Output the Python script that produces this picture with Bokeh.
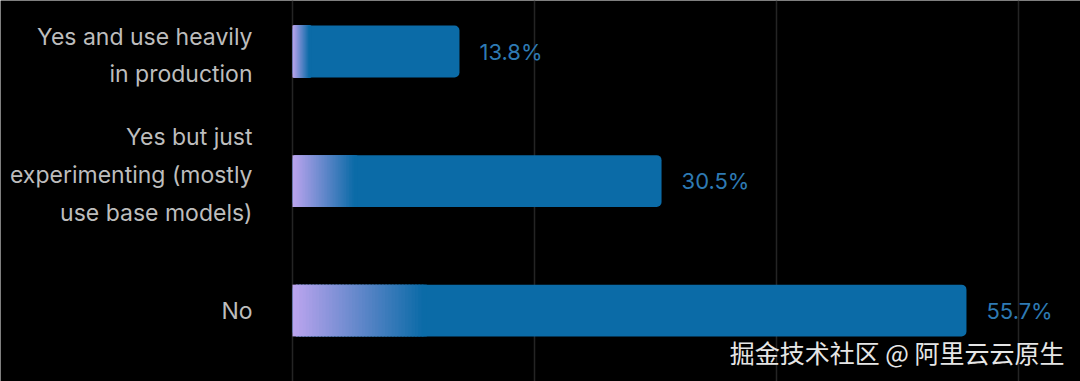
from bokeh.plotting import figure
from bokeh.models import Range1d, FixedTicker, ColumnDataSource, Label
from bokeh.core.properties import value
from bokeh.embed import file_html
from bokeh.resources import INLINE

categories = ["Yes and use heavily\nin production",
              "Yes but just\nexperimenting (mostly\nuse base models)",
              "No"]
values = [13.8, 30.5, 55.7]
value_labels = ["13.8%", "30.5%", "55.7%"]
grid_ticks = [0, 20, 40, 60]

PX_PER_UNIT = 12.1
W, H = 1080, 381
LEFT = 292
x_start = -LEFT / PX_PER_UNIT
x_end = (W - LEFT) / PX_PER_UNIT

ys = list(range(len(categories)))
label_nudge = [4, -6, 0]

p = figure(width=W, height=H, output_backend="svg", toolbar_location=None,
           x_range=Range1d(x_start, x_end), y_range=Range1d(2.548, -0.394),
           min_border=0, background_fill_color="#000000", border_fill_color="#000000",
           outline_line_color=None)
p.xaxis.visible = False
p.yaxis.visible = False
p.ygrid.visible = False
p.xgrid.ticker = FixedTicker(ticks=grid_ticks)
p.xgrid.grid_line_color = "#242424"
p.xgrid.grid_line_width = 1.5

# main bars
src = ColumnDataSource(dict(y=ys, right=values, lab=value_labels, cat=categories,
                            nudge=label_nudge))
p.hbar(y="y", left=0, right="right", height=0.4, source=src,
       fill_color="#0b6ba7", line_color=None, border_radius=5)

# gradient on the left part of each bar
def hexcol(c):
    return "#%02x%02x%02x" % tuple(int(round(v)) for v in c)

c0 = (186, 164, 238)
c1 = (11, 107, 167)
N = 40
gl, gr, gy, gc = [], [], [], []
for yi, v in zip(ys, values):
    g = max(0.228 * v - 1.75, 0.8)
    for j in range(N):
        t = j / (N - 1)
        col = tuple(c0[k] + (c1[k] - c0[k]) * t for k in range(3))
        gl.append(g * j / N)
        gr.append(g * (j + 1) / N + 0.15)
        gy.append(yi)
        gc.append(hexcol(col))
p.hbar(y=gy, left=gl, right=gr, height=0.4, fill_color=gc, line_color=None)

# category labels
p.text(x=0, y="y", text="cat", source=src, x_offset=-40, y_offset="nudge",
       text_align="right", text_baseline="middle",
       text_font=value("Inter"), text_font_size="23px", text_color="#bdbdbd",
       text_line_height=1.35)

# value labels
p.text(x="right", y="y", text="lab", source=src, x_offset=20,
       text_align="left", text_baseline="middle",
       text_font=value("Inter"), text_font_size="22px", text_color="#2e7ab3")

wm = Label(x=W - 16, y=30, x_units="screen", y_units="screen",
           text="掘金技术社区 @ 阿里云云原生", text_align="right", text_baseline="middle",
           text_font="Noto Sans CJK SC", text_font_size="25px", text_color="#e6e6e6")
p.add_layout(wm)

open("out.html", "w").write(file_html(p, INLINE))
